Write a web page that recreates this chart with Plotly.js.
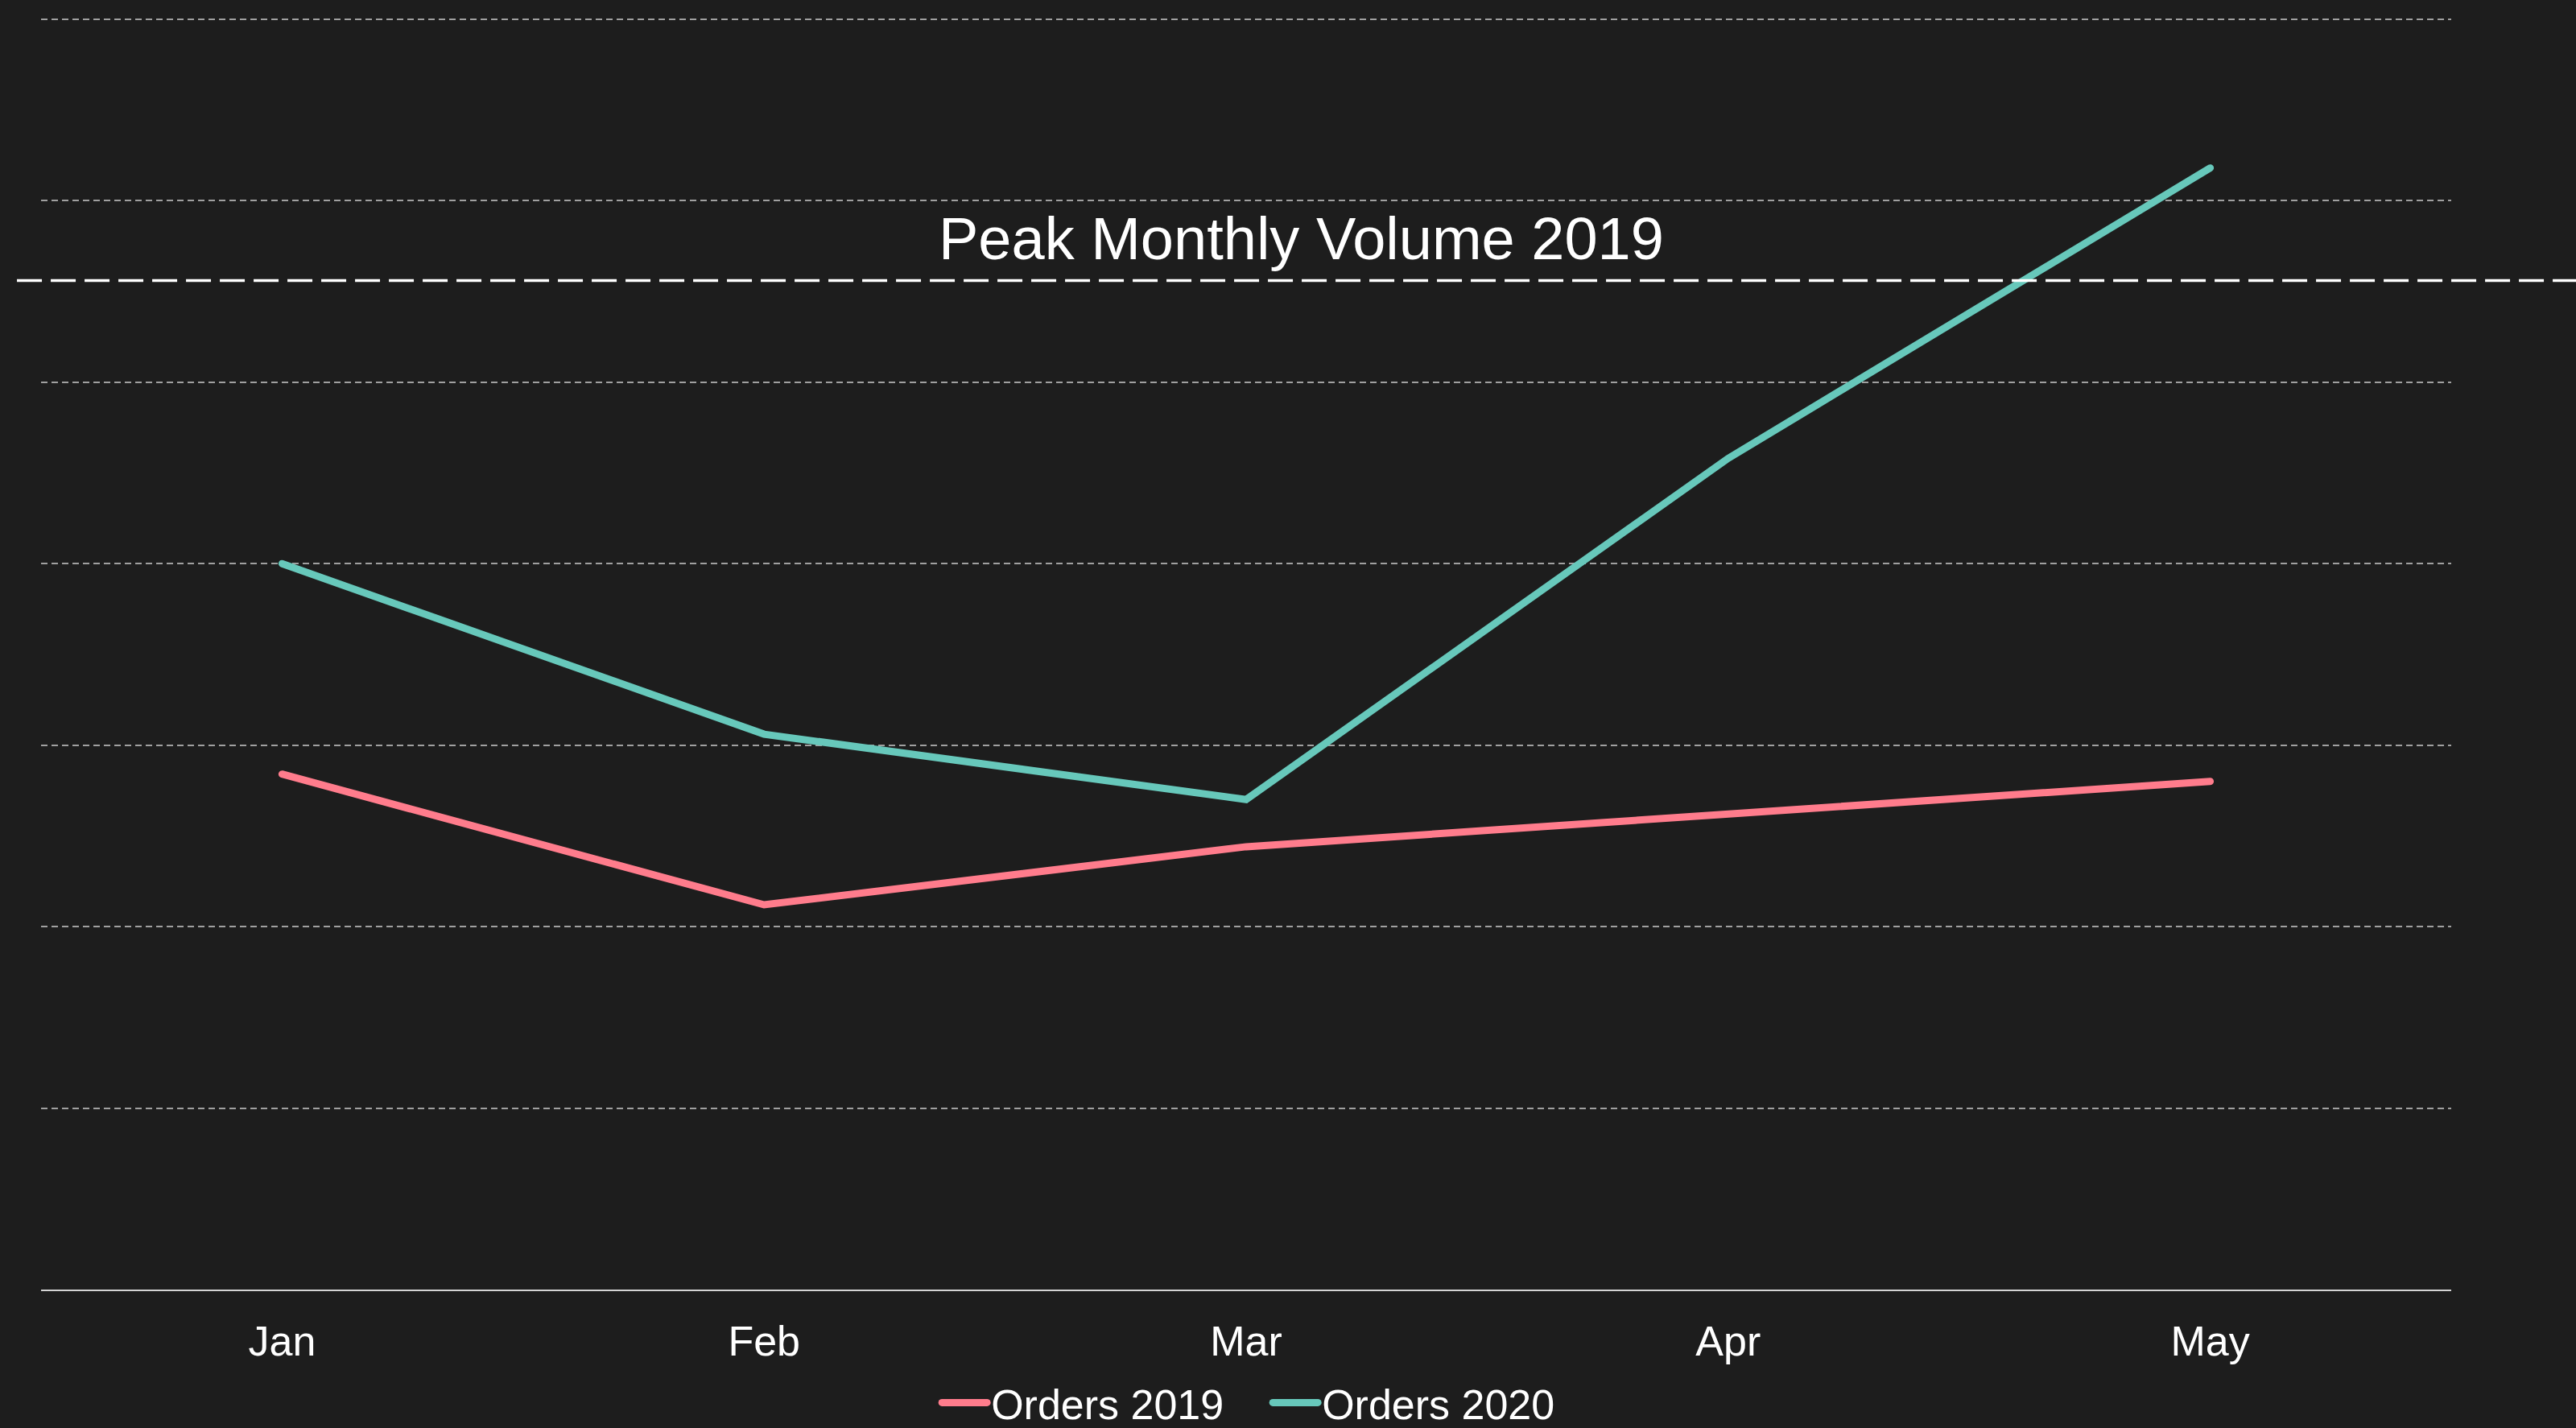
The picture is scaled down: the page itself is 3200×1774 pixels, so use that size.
<!DOCTYPE html>
<html>
<head>
<meta charset="utf-8">
<script src="https://cdn.plot.ly/plotly-3.0.1.min.js"></script>
<style>
  html, body { margin: 0; padding: 0; background: #1d1d1d; }
  #chart { width: 3200px; height: 1774px; }
  .scatterlayer path.js-line, .legend path.js-line { stroke-linecap: round; }
</style>
</head>
<body>
<div id="chart"></div>
<script>
const months = ["Jan", "Feb", "Mar", "Apr", "May"];
const orders2019 = [142, 106, 122, 131, 140];
const orders2020 = [200, 153, 135, 229, 309];
const peakValue = 278;
const peakLabel = "Peak Monthly Volume 2019";

const font = "Liberation Sans, Arial, Helvetica, sans-serif";

const traces = [
  {
    x: months, y: orders2019, type: "scatter", mode: "lines", name: "Orders 2019",
    line: { color: "#ff7c8c", width: 9 }
  },
  {
    x: months, y: orders2020, type: "scatter", mode: "lines", name: "Orders 2020",
    line: { color: "#67c8bb", width: 9 }
  }
];

const layout = {
  width: 3200, height: 1774,
  paper_bgcolor: "#1d1d1d", plot_bgcolor: "#1d1d1d",
  font: { family: font, color: "#ffffff", size: 52 },
  margin: { l: 51, r: 155, t: 22, b: 172, pad: 0, autoexpand: false },
  showlegend: true,
  legend: {
    orientation: "h", x: 0.5094, xanchor: "center", y: -0.089, yanchor: "middle",
    font: { family: font, color: "#ffffff", size: 52 },
    bgcolor: "rgba(0,0,0,0)", itemwidth: 56, entrywidth: 340, tracegroupgap: 0
  },
  xaxis: {
    type: "category", range: [-0.5, 4.5],
    showgrid: false, zeroline: false,
    showline: true, linecolor: "#d4d4d4", linewidth: 2,
    ticks: "outside", ticklen: 18, tickcolor: "rgba(0,0,0,0)",
    tickfont: { family: font, size: 52, color: "#ffffff" }
  },
  yaxis: {
    range: [0, 350.4], dtick: 50, tick0: 0,
    showticklabels: false, ticks: "",
    showgrid: true, gridcolor: "#a0a0a0", gridwidth: 2, griddash: "8px,5px",
    zeroline: false, showline: false
  },
  shapes: [
    {
      type: "line", xref: "paper", yref: "y",
      x0: -0.01, x1: 1.06, y0: peakValue, y1: peakValue,
      line: { color: "#ffffff", width: 3.5, dash: "31px,11px" }
    }
  ],
  annotations: [
    {
      text: peakLabel, xref: "paper", yref: "y", x: 0.523, y: peakValue,
      xanchor: "center", yanchor: "bottom", showarrow: false, yshift: 8,
      font: { family: font, size: 74, color: "#ffffff" }
    }
  ]
};

Plotly.newPlot("chart", traces, layout, { staticPlot: true, displayModeBar: false });
</script>
</body>
</html>
